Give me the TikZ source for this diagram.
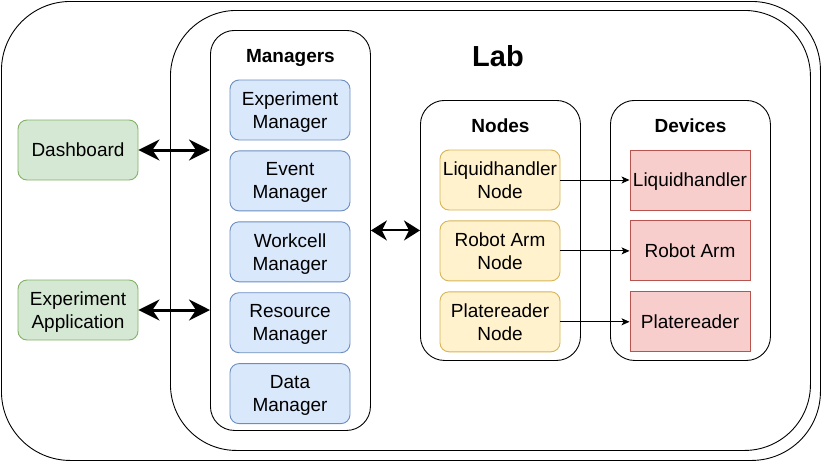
\documentclass[tikz,border=0pt]{standalone}
\usepackage{fontspec}
\setmainfont{Liberation Sans}
\usetikzlibrary{arrows.meta, positioning}
\definecolor{appfill}{HTML}{D5E8D4}
\definecolor{appdraw}{HTML}{82B366}
\definecolor{mgrfill}{HTML}{DAE8FC}
\definecolor{mgrdraw}{HTML}{6C8EBF}
\definecolor{nodefill}{HTML}{FFF2CC}
\definecolor{nodedraw}{HTML}{D6B656}
\definecolor{devfill}{HTML}{F8CECC}
\definecolor{devdraw}{HTML}{B85450}
\tikzstyle{frame} = [
rectangle, rounded corners=24pt, draw=black, line width=0.9pt,
anchor=north west, inner sep=0pt
]
\tikzstyle{title} = [
font=\fontsize{19}{23}\selectfont\bfseries, anchor=base, inner sep=0pt
]
\tikzstyle{app} = [
rectangle, rounded corners=9pt, minimum width=120pt, minimum height=60pt,
align=center, draw=appdraw, fill=appfill, line width=0.9pt, inner sep=1pt,
text depth=0pt, font=\fontsize{19}{23}\selectfont
]
\tikzstyle{manager} = [app, draw=mgrdraw, fill=mgrfill]
\tikzstyle{labnode} = [app, draw=nodedraw, fill=nodefill]
\tikzstyle{device} = [app, rounded corners=0pt, draw=devdraw, fill=devfill]
\tikzstyle{bigarrow} = [line width=3pt,
{Stealth[length=21pt,width=21pt,inset=7pt]}-{Stealth[length=21pt,width=21pt,inset=7pt]}]
\tikzstyle{midarrow} = [line width=2pt,
{Stealth[length=16pt,width=20pt,inset=5pt]}-{Stealth[length=16pt,width=20pt,inset=5pt]}]
\tikzstyle{arrow} = [line width=0.9pt,-{Stealth[length=8pt,width=7pt,inset=2pt]}]

\begin{document}
\begin{tikzpicture}[x=1pt, y=-1pt]
			\useasboundingbox (0,0) rectangle (821,461);
			% Frames
			\node (Outer) [frame, rounded corners=69pt, minimum width=819pt, minimum height=459pt] at (1,1) {};
			\node (Lab) [frame, rounded corners=66pt, minimum width=640pt, minimum height=440pt] at (170,10) {};
			\node (Managers) [frame, minimum width=160pt, minimum height=400pt] at (210,30) {};
			\node (Nodes) [frame, minimum width=160pt, minimum height=260pt] at (420,100) {};
			\node (Devices) [frame, minimum width=160pt, minimum height=260pt] at (610,100) {};

			% Titles
			\node (Lab_title) [title, font=\fontsize{29}{34}\selectfont\bfseries] at (498,66) {Lab};
			\node (Managers_title) [title] at ([yshift=-32pt]Managers.north) {Managers};
			\node (Nodes_title) [title] at ([yshift=-32pt]Nodes.north) {Nodes};
			\node (Devices_title) [title] at ([yshift=-32pt]Devices.north) {Devices};

			% Applications
			\node (Dashboard) [app] at (78,150) {Dashboard};
			\node (ExpApp) [app] at (78,310) {Experiment\\Application};

			% Managers
			\node (ExpMgr) [manager] at (290,110) {Experiment\\Manager};
			\node (EventMgr) [manager, below=10pt of ExpMgr] {Event\\Manager};
			\node (WorkcellMgr) [manager, below=10pt of EventMgr] {Workcell\\Manager};
			\node (ResourceMgr) [manager, below=10pt of WorkcellMgr] {Resource\\Manager};
			\node (DataMgr) [manager, below=10pt of ResourceMgr] {Data\\Manager};

			% Nodes
			\node (LH_node) [labnode] at (500,180) {Liquidhandler\\Node};
			\node (Arm_node) [labnode, below=10pt of LH_node] {Robot Arm\\Node};
			\node (PR_node) [labnode, below=10pt of Arm_node] {Platereader\\Node};

			% Devices
			\node (LH_dev) [device] at (690,180) {Liquidhandler};
			\node (Arm_dev) [device, below=10pt of LH_dev] {Robot Arm};
			\node (PR_dev) [device, below=10pt of Arm_dev] {Platereader};

			% Connections
			\draw [bigarrow] (Dashboard.east) -- (Dashboard.east -| Managers.west);
			\draw [bigarrow] (ExpApp.east) -- (ExpApp.east -| Managers.west);
			\draw [midarrow] (Managers.east) -- (Nodes.west);
			\draw [arrow] (LH_node) -- (LH_dev);
			\draw [arrow] (Arm_node) -- (Arm_dev);
			\draw [arrow] (PR_node) -- (PR_dev);

		\end{tikzpicture}
\end{document}
